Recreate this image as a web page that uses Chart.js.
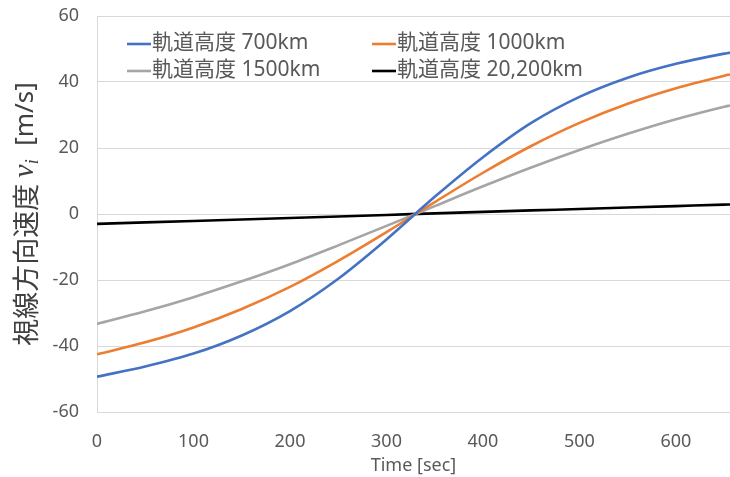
<!DOCTYPE html>
<html><head><meta charset="utf-8">
<script src="https://cdn.jsdelivr.net/npm/chart.js@4.4.0/dist/chart.umd.min.js"></script>
<style>html,body{margin:0;padding:0;background:#fff;}#wrap{width:730px;height:477px;}</style>
</head><body><div id="wrap"><canvas id="c" width="730" height="477"></canvas></div>
<script>
const times   = [0, 50, 100, 150, 200, 250, 300, 350, 400, 450, 500, 550, 600, 650, 656];
const alt700  = [-49.3, -46.2, -42.3, -36.8, -29.4, -19.6, -7.7, 5.2, 17.2, 27.6, 35.5, 41.3, 45.5, 48.6, 48.9];
const alt1000 = [-42.5, -38.9, -34.4, -28.8, -22.1, -14.2, -5.5, 3.6, 12.5, 20.6, 27.6, 33.4, 38.1, 41.9, 42.3];
const alt1500 = [-33.3, -29.5, -25.2, -20.4, -15.2, -9.5, -3.6, 2.4, 8.4, 14.1, 19.4, 24.3, 28.7, 32.5, 32.9];
const alt20200 = [-3.0, -2.55, -2.1, -1.65, -1.2, -0.75, -0.3, 0.2, 0.65, 1.1, 1.5, 1.95, 2.4, 2.85, 2.9];
const seriesNames = ['軌道高度 700km', '軌道高度 1000km', '軌道高度 1500km', '軌道高度 20,200km'];
const seriesColors = ['#4472C4', '#ED7D31', '#A5A5A5', '#000000'];
const xTitle = 'Time [sec]';
const yTitleParts = ['視線方向速度 ', 'v', 'i', '  [m/s]'];

const allSeries = [alt700, alt1000, alt1500, alt20200];
const datasets = allSeries.map((s, k) => ({
  label: seriesNames[k],
  data: times.map((t, i) => ({x: t, y: s[i]})),
  borderColor: seriesColors[k],
  backgroundColor: seriesColors[k],
  borderWidth: 2.6,
  pointRadius: 0,
  cubicInterpolationMode: 'monotone',
  fill: false
}));

const SANS = "'Noto Sans', 'Noto Sans CJK JP', sans-serif";
const TXT = '#595959';

const legendPlugin = {
  id: 'insideLegend',
  afterDraw(chart) {
    const {ctx, chartArea} = chart;
    ctx.save();
    ctx.font = "21px 'Noto Sans', 'Noto Sans CJK JP', sans-serif";
    ctx.textBaseline = 'middle';
    ctx.fillStyle = TXT;
    chart.data.datasets.forEach((ds, i) => {
      const col = i % 2, row = Math.floor(i / 2);
      const x0 = chartArea.left + 30 + col * 245;
      const y0 = chartArea.top + 28 + row * 27;
      ctx.strokeStyle = ds.borderColor;
      ctx.lineWidth = 2.6;
      ctx.beginPath();
      ctx.moveTo(x0, y0);
      ctx.lineTo(x0 + 24, y0);
      ctx.stroke();
      ctx.fillText(ds.label, x0 + 25, y0 - 1);
    });
    ctx.restore();
  }
};

const yTitlePlugin = {
  id: 'yTitle',
  afterDraw(chart) {
    const {ctx, chartArea} = chart;
    const fCJK = "27px 'Noto Sans CJK JP', sans-serif";
    const fV = "italic 30px 'Liberation Serif', 'DejaVu Serif', serif";
    const fI = "italic 18px 'Liberation Serif', 'DejaVu Serif', serif";
    const fU = "26px 'Noto Sans', sans-serif";
    const fonts = [fCJK, fV, fI, fU];
    ctx.save();
    const widths = yTitleParts.map((p, i) => { ctx.font = fonts[i]; return ctx.measureText(p).width; });
    const total = widths.reduce((a, b) => a + b, 0);
    const cy = (chartArea.top + chartArea.bottom) / 2;
    ctx.translate(26, cy);
    ctx.rotate(-Math.PI / 2);
    ctx.fillStyle = '#404040';
    ctx.textBaseline = 'middle';
    let x = -total / 2;
    yTitleParts.forEach((p, i) => {
      ctx.font = fonts[i];
      const dy = i === 2 ? 7 : (i === 1 ? -1 : 0);
      ctx.fillText(p, x, dy);
      x += widths[i];
    });
    ctx.restore();
  }
};

new Chart(document.getElementById('c'), {
  type: 'line',
  data: { datasets },
  options: {
    responsive: false,
    devicePixelRatio: 1,
    animation: false,
    layout: { padding: { left: 0, right: 0, top: 16, bottom: 0 } },
    plugins: { legend: { display: false }, tooltip: { enabled: false } },
    scales: {
      x: {
        type: 'linear',
        min: 0, max: 656,
        grid: { display: false },
        border: { display: true, color: '#D9D9D9', width: 1 },
        ticks: { stepSize: 100, includeBounds: false, padding: 11, color: TXT, font: { family: SANS, size: 18 }, maxRotation: 0 },
        title: { display: true, text: xTitle, color: TXT, font: { family: SANS, size: 18 }, padding: { top: 0, bottom: 0 } },
        afterFit(scale) { scale.height = 65; scale.paddingLeft = 0; scale.paddingRight = 0; }
      },
      y: {
        min: -60, max: 60,
        grid: { color: '#D9D9D9', lineWidth: 1, drawTicks: false },
        border: { display: true, color: '#D9D9D9', width: 1 },
        ticks: { stepSize: 20, padding: 18, color: TXT, font: { family: SANS, size: 18 } },
        afterFit(scale) { scale.width = 97; scale.paddingTop = 0; scale.paddingBottom = 0; }
      }
    }
  },
  plugins: [legendPlugin, yTitlePlugin]
});
</script>
</body></html>
